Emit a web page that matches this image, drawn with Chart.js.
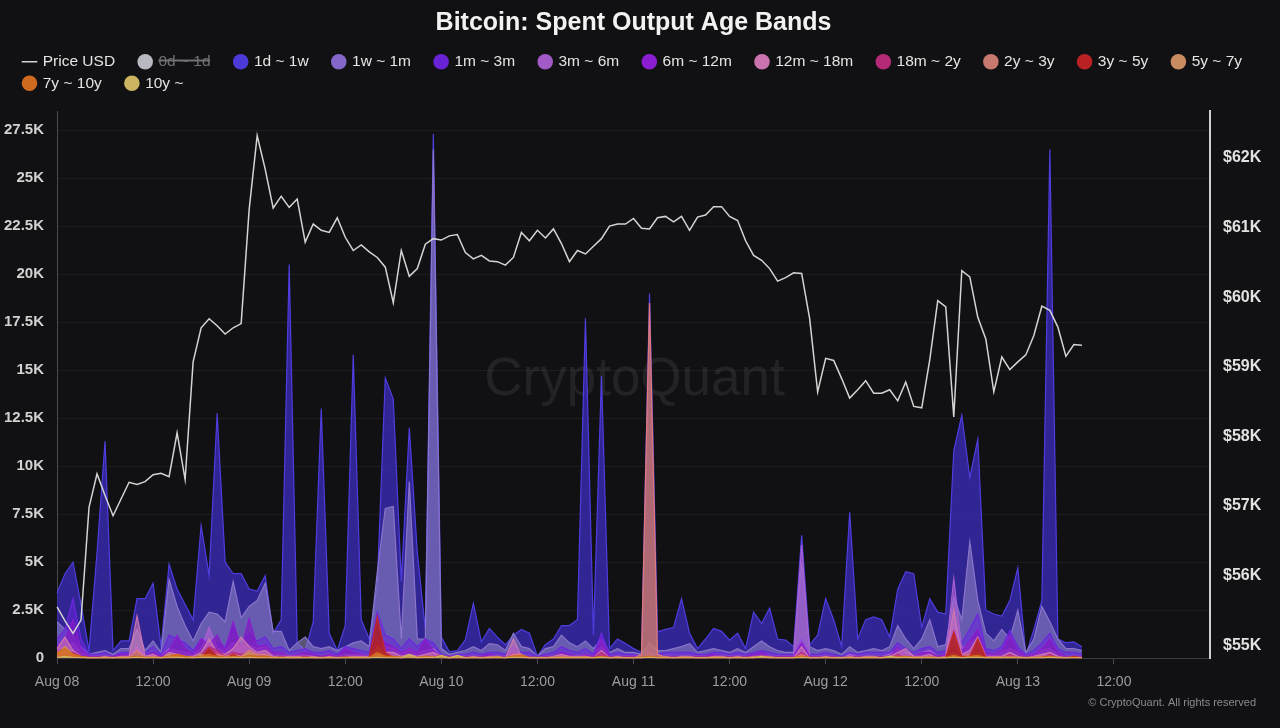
<!DOCTYPE html>
<html>
<head>
<meta charset="utf-8">
<title>Bitcoin: Spent Output Age Bands</title>
<script src="https://cdn.jsdelivr.net/npm/chart.js@4.4.1/dist/chart.umd.min.js"></script>
<style>
    html, body { margin: 0; padding: 0; background: #111113; }
    #wrap { width: 1280px; height: 728px; position: relative; }
</style>
</head>
<body>
<div id="wrap"><canvas id="chart"></canvas></div>
<script>
// hourly points starting Aug 08 00:00, volumes in thousands of BTC, price in thousands of USD
const startDay = 8;
const hoursOnAxis = 144;

const priceUsd = [
    55.55, 55.35, 55.17, 55.36, 56.98, 57.46, 57.15, 56.86, 57.10, 57.34,
    57.31, 57.35, 57.45, 57.47, 57.42, 58.05, 57.38, 59.07, 59.56, 59.69,
    59.59, 59.47, 59.56, 59.62, 61.26, 62.32, 61.84, 61.28, 61.45, 61.29,
    61.41, 60.79, 61.05, 60.96, 60.93, 61.14, 60.86, 60.67, 60.75, 60.65,
    60.57, 60.43, 59.92, 60.67, 60.30, 60.41, 60.76, 60.84, 60.82, 60.88,
    60.90, 60.64, 60.55, 60.60, 60.52, 60.51, 60.46, 60.57, 60.93, 60.81,
    60.96, 60.85, 60.98, 60.77, 60.51, 60.67, 60.62, 60.73, 60.84, 61.02,
    61.05, 61.05, 61.13, 60.99, 60.98, 61.14, 61.16, 61.08, 61.16, 60.96,
    61.15, 61.18, 61.30, 61.30, 61.16, 61.10, 60.81, 60.60, 60.53, 60.41,
    60.23, 60.28, 60.35, 60.34, 59.69, 58.64, 59.12, 59.09, 58.83, 58.55,
    58.67, 58.80, 58.62, 58.62, 58.67, 58.51, 58.78, 58.43, 58.41, 59.10,
    59.95, 59.86, 58.28, 60.38, 60.29, 59.71, 59.40, 58.64, 59.14, 58.96,
    59.07, 59.17, 59.45, 59.87, 59.81, 59.57, 59.15, 59.32, 59.31
];

const band1d1w = [
    3.4, 4.4, 5.0, 2.8, 0.4, 5.5, 11.3, 0.4, 0.9, 0.9,
    3.1, 3.1, 3.9, 0.6, 4.9, 3.6, 2.8, 2.0, 6.9, 4.3,
    12.75, 5.0, 4.4, 4.4, 3.6, 3.5, 4.3, 1.3, 2.0, 20.5,
    0.8, 0.4, 1.9, 13.0, 1.3, 0.4, 1.7, 15.8, 2.0, 1.0,
    3.8, 14.6, 13.5, 4.0, 12.0, 5.5, 1.5, 27.3, 1.1, 0.33,
    0.4, 0.95, 2.85, 0.85, 1.55, 1.1, 0.7, 1.2, 1.5, 1.3,
    0.1, 0.7, 1.0, 1.7, 1.7, 2.0, 17.7, 1.2, 14.7, 0.5,
    1.0, 0.76, 0.5, 0.3, 19.0, 1.37, 1.5, 1.6, 3.1, 1.3,
    0.5, 1.0, 1.55, 1.4, 0.94, 1.3, 0.5, 2.4, 1.8, 2.6,
    1.0, 0.94, 0.6, 6.4, 0.7, 1.2, 3.1, 2.0, 0.6, 7.6,
    1.0, 2.0, 2.15, 2.0, 1.1, 3.6, 4.5, 4.4, 1.6, 3.1,
    2.4, 2.3, 10.8, 12.65, 9.4, 11.4, 2.5, 2.3, 2.2, 3.0,
    4.7, 0.15, 1.5, 3.0, 26.5, 1.0, 0.8, 0.85, 0.6
];

const band1w1m = [
    1.9, 1.5, 1.2, 0.6, 0.2, 0.3, 0.4, 0.2, 0.5, 0.5,
    1.5, 0.4, 0.9, 0.3, 4.1, 2.7, 1.7, 0.9, 1.8, 2.4,
    2.3, 1.9, 4.0, 2.1, 2.7, 3.0, 3.9, 1.4, 1.4, 0.4,
    0.8, 1.1, 0.6, 0.5, 0.6, 0.4, 0.6, 0.8, 0.9, 0.6,
    4.5, 7.8, 7.9, 1.0, 9.2, 1.0, 1.0, 26.5, 0.5, 0.2,
    0.3, 0.4, 0.6, 0.4, 0.76, 0.7, 0.4, 1.3, 0.6, 0.5,
    0.1, 0.5, 0.6, 1.2, 0.8, 0.6, 0.9, 0.5, 1.0, 0.3,
    0.5, 0.3, 0.3, 0.2, 0.8, 0.4, 0.4, 0.5, 0.6, 0.76,
    0.3, 0.4, 0.5, 0.4, 0.3, 0.5, 0.3, 0.6, 0.9, 0.6,
    0.4, 0.3, 0.3, 5.0, 0.6, 0.4, 0.5, 0.4, 0.2, 0.6,
    0.3, 0.4, 0.5, 0.4, 0.6, 1.7, 1.0, 0.5, 1.0, 2.0,
    0.6, 0.7, 3.2, 2.0, 6.06, 3.0, 1.3, 0.9, 1.5, 1.0,
    2.5, 0.3, 1.0, 2.7, 1.9, 1.0, 0.5, 0.5, 0.4
];

const band1m3m = [
    1.0, 1.5, 3.1, 1.0, 0.2, 0.2, 0.3, 0.1, 0.3, 0.3,
    0.5, 0.3, 0.6, 0.2, 1.2, 1.0, 0.8, 0.4, 1.0, 0.9,
    0.8, 0.6, 1.6, 0.7, 1.3, 0.9, 1.1, 0.5, 0.6, 0.3,
    0.4, 0.5, 0.3, 0.3, 0.4, 0.2, 0.6, 0.5, 0.4, 0.3,
    2.4, 1.2, 1.0, 0.5, 1.0, 0.6, 1.0, 0.8, 0.2, 0.1,
    0.2, 0.2, 0.3, 0.2, 0.3, 0.3, 0.2, 0.6, 0.3, 0.3,
    0.1, 0.2, 0.3, 0.6, 0.4, 0.3, 0.5, 0.2, 1.3, 0.2,
    0.3, 0.2, 0.2, 0.1, 0.5, 0.2, 0.3, 0.3, 0.3, 0.3,
    0.2, 0.2, 0.3, 0.3, 0.2, 0.3, 0.2, 0.3, 0.4, 0.3,
    0.2, 0.2, 0.2, 1.0, 0.2, 0.2, 0.3, 0.2, 0.1, 0.3,
    0.2, 0.3, 0.3, 0.3, 0.3, 0.8, 0.5, 0.3, 0.5, 0.6,
    0.3, 0.4, 2.0, 0.8, 1.5, 2.3, 0.5, 0.4, 0.6, 1.45,
    0.6, 0.2, 0.4, 0.8, 1.3, 0.5, 0.3, 0.3, 0.2
];

const band3m6m = [
    0.5, 0.6, 0.8, 0.3, 0.1, 0.1, 0.1, 0.1, 0.1, 0.1,
    0.6, 0.1, 0.2, 0.1, 0.5, 0.4, 0.3, 0.2, 0.5, 1.6,
    0.5, 0.4, 0.8, 0.6, 0.7, 0.5, 0.6, 0.2, 0.3, 0.1,
    0.2, 0.2, 0.1, 0.1, 0.2, 0.1, 0.2, 0.2, 0.2, 0.1,
    1.0, 0.6, 0.5, 0.2, 0.5, 0.3, 0.4, 0.5, 0.1, 0.1,
    0.1, 0.1, 0.1, 0.1, 0.1, 0.1, 0.1, 0.3, 0.1, 0.1,
    0.0, 0.1, 0.1, 0.2, 0.1, 0.1, 0.2, 0.1, 0.6, 0.1,
    0.1, 0.1, 0.1, 0.1, 0.3, 0.1, 0.1, 0.1, 0.1, 0.1,
    0.1, 0.1, 0.1, 0.1, 0.1, 0.1, 0.1, 0.1, 0.2, 0.1,
    0.1, 0.1, 0.1, 5.9, 0.1, 0.1, 0.1, 0.1, 0.0, 0.2,
    0.1, 0.1, 0.1, 0.1, 0.2, 0.5, 0.3, 0.1, 0.3, 0.4,
    0.1, 0.2, 4.15, 0.5, 0.8, 1.1, 0.2, 0.2, 0.3, 0.5,
    0.3, 0.1, 0.2, 0.4, 0.5, 0.2, 0.1, 0.1, 0.1
];

const band6m12m = [
    0.6, 1.0, 2.0, 0.5, 0.1, 0.1, 0.1, 0.1, 0.2, 0.2,
    0.3, 0.1, 0.3, 0.1, 0.4, 1.2, 0.5, 0.2, 1.0, 0.7,
    1.2, 0.4, 1.9, 0.5, 2.07, 0.6, 0.7, 0.3, 0.3, 0.1,
    0.2, 0.3, 0.2, 0.1, 0.2, 0.1, 0.5, 0.3, 0.2, 0.1,
    1.2, 0.8, 0.6, 0.3, 0.5, 0.3, 1.0, 0.4, 0.1, 0.1,
    0.1, 0.1, 0.1, 0.1, 0.2, 0.1, 0.1, 0.3, 0.1, 0.1,
    0.0, 0.1, 0.1, 0.3, 0.2, 0.1, 0.2, 0.1, 1.0, 0.1,
    0.1, 0.1, 0.1, 0.1, 0.2, 0.1, 0.1, 0.1, 0.1, 0.1,
    0.1, 0.1, 0.2, 0.1, 0.1, 0.1, 0.1, 0.2, 0.3, 0.1,
    0.1, 0.1, 0.1, 0.8, 0.1, 0.1, 0.1, 0.1, 0.0, 0.1,
    0.1, 0.1, 0.1, 0.1, 0.1, 0.6, 0.2, 0.1, 0.3, 0.3,
    0.1, 0.2, 1.5, 0.4, 0.9, 1.5, 0.3, 0.2, 0.4, 1.2,
    0.4, 0.1, 0.2, 0.5, 1.0, 0.3, 0.1, 0.1, 0.1
];

const band12m18m = [
    0.5, 1.1, 0.4, 0.1, 0.0, 0.0, 0.1, 0.0, 0.1, 0.1,
    2.2, 0.1, 0.2, 0.0, 0.3, 0.2, 0.1, 0.1, 0.3, 1.0,
    0.3, 0.2, 0.5, 1.1, 0.6, 0.3, 0.4, 0.1, 0.1, 0.1,
    0.1, 0.1, 0.1, 0.0, 0.1, 0.0, 0.1, 0.1, 0.1, 0.1,
    0.6, 0.3, 0.3, 0.1, 0.2, 0.1, 0.2, 0.3, 0.1, 0.0,
    0.1, 0.0, 0.1, 0.0, 0.1, 0.1, 0.0, 1.0, 0.1, 0.0,
    0.0, 0.0, 0.1, 0.2, 0.1, 0.1, 0.1, 0.0, 0.4, 0.0,
    0.1, 0.0, 0.0, 0.0, 0.2, 0.0, 0.1, 0.0, 0.1, 0.1,
    0.0, 0.0, 0.1, 0.1, 0.0, 0.1, 0.0, 0.1, 0.1, 0.1,
    0.0, 0.0, 0.0, 0.6, 0.0, 0.0, 0.1, 0.0, 0.0, 0.1,
    0.0, 0.1, 0.1, 0.0, 0.1, 0.3, 0.5, 0.1, 0.1, 0.2,
    0.0, 0.1, 2.5, 0.2, 0.4, 1.1, 0.1, 0.1, 0.1, 0.3,
    0.1, 0.0, 0.1, 0.2, 0.3, 0.1, 0.0, 0.1, 0.0
];

const band18m2y = [
    0.2, 0.3, 0.3, 0.1, 0, 0, 0, 0, 0, 0,
    0.3, 0, 0.1, 0, 0.1, 0.2, 0.1, 0, 0.2, 0.6,
    0.4, 0.1, 0.3, 0.2, 0.3, 0.1, 0.2, 0, 0.1, 0,
    0, 0.1, 0, 0, 0, 0, 0.1, 0, 0, 0,
    0.8, 0.2, 0.1, 0, 0.1, 0, 0.1, 0.1, 0, 0,
    0, 0, 0, 0, 0, 0, 0, 0.2, 0, 0,
    0, 0, 0, 0, 0, 0, 0, 0, 0.3, 0,
    0, 0, 0, 0, 0.1, 0, 0, 0, 0, 0,
    0, 0, 0, 0, 0, 0, 0, 0, 0, 0,
    0, 0, 0, 0.3, 0, 0, 0, 0, 0, 0,
    0, 0, 0, 0, 0, 0.2, 0, 0, 0, 0.1,
    0, 0, 0.6, 0, 0.2, 0.4, 0, 0, 0, 0.2,
    0, 0, 0, 0, 0.2, 0, 0, 0, 0
];

const band2y3y = [
    0.1, 0.6, 0.2, 0.05, 0, 0, 0, 0, 0.05, 0.05,
    0.4, 0.05, 0.1, 0, 0.1, 0.2, 0.1, 0.05, 0.1, 0.3,
    0.2, 0.1, 0.2, 0.1, 0.4, 0.2, 0.2, 0.05, 0.05, 0,
    0, 0.05, 0, 0, 0.05, 0, 0.05, 0.05, 0.05, 0,
    0.6, 0.2, 0.1, 0.05, 0.1, 0.05, 0.1, 0.1, 0.05, 0,
    0.05, 0, 0.05, 0, 0.05, 0.05, 0, 0.2, 0.2, 0,
    0, 0, 0.05, 0.1, 0.05, 0.05, 0.1, 0, 0.1, 0,
    0.05, 0, 0, 0.2, 18.5, 0.2, 0.05, 0, 0.05, 0.05,
    0, 0, 0.05, 0.05, 0, 0.05, 0, 0.05, 0.1, 0.05,
    0, 0, 0, 0.2, 0, 0, 0.05, 0, 0, 0.05,
    0, 0.05, 0.05, 0, 0.1, 0.1, 0.1, 0.05, 0.05, 0.1,
    0, 0.05, 0.3, 0.1, 0.2, 0.3, 0.05, 0.05, 0.05, 0.1,
    0.05, 0, 0.05, 0.1, 0.1, 0.05, 0, 0.05, 0
];

const band3y5y = [
    0.05, 0.2, 0.1, 0, 0, 0, 0, 0, 0, 0,
    0.05, 0, 0, 0, 0, 0.05, 0, 0, 0.05, 0.5,
    0.1, 0, 0.2, 0, 0.05, 0, 0, 0, 0, 0,
    0, 0, 0, 0, 0, 0, 0, 0, 0, 0.05,
    2.15, 0.3, 0.05, 0, 0.05, 0, 0, 0.05, 0.15, 0,
    0, 0, 0, 0, 0, 0, 0, 0.05, 0.05, 0,
    0, 0, 0, 0, 0, 0, 0, 0, 0.1, 0,
    0, 0, 0, 0, 0.1, 0, 0, 0, 0, 0,
    0, 0, 0, 0, 0, 0, 0, 0, 0.05, 0,
    0, 0, 0, 0.1, 0, 0, 0, 0, 0, 0,
    0, 0, 0, 0, 0.05, 0.05, 0.05, 0, 0, 0.05,
    0, 0.05, 1.37, 0.1, 0.1, 1.0, 0.05, 0, 0, 0.05,
    0, 0, 0, 0.05, 0.1, 0, 0, 0.1, 0
];

const band5y7y = [
    0.2, 0.6, 0.2, 0.05, 0, 0, 0, 0, 0, 0,
    0.1, 0, 0.05, 0, 0.2, 0.1, 0.05, 0, 0.2, 0.1,
    0.05, 0.05, 0.1, 0.05, 0.3, 0.1, 0.05, 0, 0, 0,
    0, 0, 0, 0, 0, 0, 0, 0, 0, 0,
    0.2, 0.1, 0.05, 0, 0.05, 0, 0.05, 0.05, 0, 0,
    0, 0, 0, 0, 0, 0.1, 0, 0.05, 0.05, 0,
    0, 0, 0, 0, 0, 0, 0, 0, 0, 0,
    0, 0, 0, 0, 0.1, 0, 0, 0, 0, 0,
    0, 0, 0, 0, 0, 0, 0, 0, 0.1, 0,
    0, 0, 0, 0, 0, 0, 0, 0, 0, 0,
    0, 0, 0, 0, 0.05, 0, 0.05, 0, 0, 0,
    0, 0, 0.1, 0, 0.05, 0.1, 0, 0, 0, 0,
    0, 0, 0, 0, 0.05, 0, 0, 0, 0
];

const band7y10y = [
    0.3, 0.5, 0.2, 0.1, 0.05, 0.05, 0.05, 0.05, 0.05, 0.05,
    0.1, 0.05, 0.05, 0.05, 0.1, 0.2, 0.1, 0.05, 0.1, 0.2,
    0.1, 0.05, 0.1, 0.05, 0.15, 0.1, 0.1, 0.05, 0.05, 0.05,
    0.05, 0.05, 0.05, 0.05, 0.05, 0.05, 0.05, 0.05, 0.05, 0.05,
    0.3, 0.1, 0.1, 0.05, 0.1, 0.05, 0.1, 0.05, 0.1, 0.05,
    0.1, 0.05, 0.05, 0.05, 0.05, 0.05, 0.05, 0.1, 0.15, 0.05,
    0.05, 0.05, 0.05, 0.05, 0.05, 0.05, 0.05, 0.05, 0.1, 0.05,
    0.05, 0.05, 0.05, 0.05, 0.1, 0.05, 0.05, 0.05, 0.05, 0.05,
    0.05, 0.05, 0.05, 0.05, 0.05, 0.05, 0.05, 0.05, 0.1, 0.05,
    0.05, 0.05, 0.05, 0.1, 0.05, 0.05, 0.05, 0.05, 0.05, 0.05,
    0.05, 0.05, 0.05, 0.05, 0.1, 0.05, 0.1, 0.05, 0.05, 0.05,
    0.05, 0.05, 0.15, 0.05, 0.1, 0.15, 0.05, 0.05, 0.05, 0.05,
    0.05, 0.05, 0.05, 0.05, 0.1, 0.05, 0.05, 0.05, 0.05
];

const band10y = [
    0.05, 0.1, 0.05, 0.02, 0.02, 0.02, 0.02, 0.02, 0.02, 0.02,
    0.05, 0.02, 0.02, 0.02, 0.05, 0.05, 0.02, 0.02, 0.05, 0.05,
    0.02, 0.02, 0.05, 0.02, 0.05, 0.02, 0.02, 0.02, 0.02, 0.02,
    0.02, 0.02, 0.02, 0.02, 0.02, 0.02, 0.02, 0.02, 0.02, 0.02,
    0.05, 0.02, 0.02, 0.02, 0.2, 0.02, 0.05, 0.02, 0.15, 0.02,
    0.15, 0.02, 0.02, 0.02, 0.02, 0.02, 0.02, 0.05, 0.05, 0.02,
    0.02, 0.02, 0.02, 0.02, 0.02, 0.02, 0.02, 0.02, 0.05, 0.02,
    0.02, 0.02, 0.02, 0.02, 0.05, 0.02, 0.02, 0.02, 0.02, 0.02,
    0.02, 0.02, 0.02, 0.02, 0.02, 0.02, 0.02, 0.02, 0.1, 0.02,
    0.02, 0.02, 0.02, 0.05, 0.02, 0.02, 0.02, 0.02, 0.02, 0.02,
    0.02, 0.02, 0.02, 0.02, 0.1, 0.02, 0.05, 0.02, 0.02, 0.02,
    0.02, 0.02, 0.05, 0.02, 0.05, 0.05, 0.02, 0.02, 0.02, 0.02,
    0.02, 0.02, 0.02, 0.02, 0.05, 0.02, 0.02, 0.02, 0.02
];

const leftTickStep = 2.5;
const rightTickStep = 1;

// x labels: one per hour, only the 12h ones are shown
const hourLabels = [];
for (let h = 0; h <= hoursOnAxis; h++) {
    const hh = h % 24;
    const day = startDay + Math.floor(h / 24);
    hourLabels.push(hh === 0 ? "Aug " + String(day).padStart(2, "0") : String(hh).padStart(2, "0") + ":00");
}

function band(label, data, color, fill, order) {
    return {
        label: label,
        data: data,
        borderColor: color,
        backgroundColor: fill,
        borderWidth: 1.2,
        fill: "origin",
        pointRadius: 0,
        pointHoverRadius: 0,
        tension: 0,
        order: order,
        yAxisID: "y"
    };
}

const datasets = [
    {
        label: "Price USD",
        data: priceUsd,
        borderColor: "#d4d4d4",
        backgroundColor: "#d4d4d4",
        borderWidth: 1.5,
        fill: false,
        pointRadius: 0,
        tension: 0,
        order: 0,
        yAxisID: "y2",
        legendStyle: "line"
    },
    Object.assign(band("0d ~ 1d", [], "#b8b8c0", "rgba(184,184,192,0.4)", 13), { hidden: true }),
    band("1d ~ 1w", band1d1w, "#4e3ee0", "rgba(58,42,180,0.8)", 12),
    band("1w ~ 1m", band1w1m, "#8a74cc", "rgba(150,138,200,0.55)", 11),
    band("1m ~ 3m", band1m3m, "#6c26e0", "rgba(104,38,220,0.55)", 10),
    band("3m ~ 6m", band3m6m, "#a95ed2", "rgba(176,96,214,0.6)", 9),
    band("6m ~ 12m", band6m12m, "#8c1cd0", "rgba(130,22,190,0.65)", 8),
    band("12m ~ 18m", band12m18m, "#cc76b0", "rgba(208,122,184,0.6)", 7),
    band("18m ~ 2y", band18m2y, "#b62a78", "rgba(184,42,120,0.65)", 6),
    band("2y ~ 3y", band2y3y, "#e07a7e", "rgba(196,118,112,0.85)", 5),
    band("3y ~ 5y", band3y5y, "#c42626", "rgba(176,30,30,0.85)", 4),
    band("5y ~ 7y", band5y7y, "#ca8c62", "rgba(204,146,102,0.7)", 3),
    band("7y ~ 10y", band7y10y, "#d4681c", "rgba(216,106,26,0.7)", 2),
    band("10y ~", band10y, "#ccb462", "rgba(204,180,98,0.7)", 1)
];

const legendColors = ["#d4d4d4", "#b8b8c0", "#4b3ad8", "#8467c9", "#6a22d6", "#a25ac6", "#8a1ed0",
    "#c974ae", "#b52a76", "#c8796d", "#b82222", "#c88b62", "#d06a1e", "#cdb461"];

const background = {
    id: "background",
    beforeDraw: function (chart) {
        const ctx = chart.ctx;
        ctx.save();
        ctx.fillStyle = "#111113";
        ctx.fillRect(0, 0, chart.width, chart.height);
        ctx.restore();
    }
};

const watermark = {
    id: "watermark",
    beforeDatasetsDraw: function (chart) {
        const ctx = chart.ctx;
        const area = chart.chartArea;
        ctx.save();
        ctx.font = "53px 'Liberation Sans', Arial, sans-serif";
        ctx.fillStyle = "rgba(255,255,255,0.08)";
        ctx.textAlign = "center";
        ctx.textBaseline = "middle";
        ctx.fillText("CryptoQuant", (area.left + area.right) / 2 + 1, (area.top + area.bottom) / 2 - 4);
        ctx.restore();
    },
    afterDraw: function (chart) {
        const ctx = chart.ctx;
        ctx.save();
        ctx.font = "11px 'Liberation Sans', Arial, sans-serif";
        ctx.fillStyle = "#8a8a8e";
        ctx.textAlign = "right";
        ctx.textBaseline = "middle";
        ctx.fillText("\u00a9 CryptoQuant. All rights reserved", 1256, 703);
        ctx.restore();
    }
};

// legend sits a bit lower and further right than chart.js would put it
const legendGap = {
    id: "legendGap",
    beforeInit: function (chart) {
        const fit = chart.legend.fit;
        chart.legend.fit = function () {
            fit.call(this);
            this.height += 10;
        };
    },
    afterLayout: function (chart) {
        chart.legend.left = 18;
        chart.legend.right = chart.width;
    }
};

const ctx = document.getElementById("chart").getContext("2d");
const chart = new Chart(ctx, {
    type: "line",
    data: {
        labels: hourLabels,
        datasets: datasets
    },
    plugins: [background, watermark, legendGap],
    options: {
        responsive: true,
        maintainAspectRatio: false,
        animation: false,
        layout: { padding: { top: 8, left: 4, right: 17, bottom: 27 } },
        interaction: { mode: "index", intersect: false },
        plugins: {
            title: {
                display: true,
                text: "Bitcoin: Spent Output Age Bands",
                color: "#f2f2f2",
                font: { family: "'Liberation Sans', Arial, sans-serif", size: 25, weight: "bold" },
                padding: { top: 0, bottom: 10 }
            },
            legend: {
                position: "top",
                align: "start",
                labels: {
                    usePointStyle: true,
                    boxWidth: 11,
                    boxHeight: 11,
                    padding: 6,
                    color: "#e4e4e4",
                    font: { family: "'Liberation Sans', Arial, sans-serif", size: 15.5 },
                    sort: function (a, b) { return a.datasetIndex - b.datasetIndex; },
                    generateLabels: function (chart) {
                        const items = Chart.defaults.plugins.legend.labels.generateLabels(chart);
                        items.forEach(function (item) {
                            const ds = chart.data.datasets[item.datasetIndex];
                            const isLine = ds.legendStyle === "line";
                            item.pointStyle = isLine ? "line" : "circle";
                            item.fillStyle = legendColors[item.datasetIndex];
                            item.strokeStyle = legendColors[item.datasetIndex];
                            item.lineWidth = isLine ? 1.5 : 0;
                            item.fontColor = item.hidden ? "#707076" : "#e4e4e4";
                            item.text = item.text + "\u2003\u2009";
                        });
                        return items;
                    }
                }
            },
            tooltip: { enabled: false }
        },
        scales: {
            x: {
                type: "category",
                offset: false,
                grid: {
                    display: true,
                    drawOnChartArea: false,
                    drawTicks: true,
                    tickLength: 6,
                    color: "#4a4a50"
                },
                border: { display: true, color: "#3a3a40" },
                ticks: {
                    autoSkip: false,
                    maxRotation: 0,
                    padding: 10,
                    color: "#9c9ca2",
                    font: { family: "'Liberation Sans', Arial, sans-serif", size: 14 },
                    callback: function (value, index) {
                        if (index % 12 === 0 && index < hoursOnAxis) {
                            return this.getLabelForValue(value);
                        }
                        return null;
                    }
                }
            },
            y: {
                position: "left",
                min: 0,
                max: 28.5,
                afterFit: function (scale) { scale.width = 53; },
                grid: { color: "rgba(255,255,255,0.05)", drawTicks: false },
                border: { display: true, color: "#4a4a50" },
                ticks: {
                    stepSize: leftTickStep,
                    includeBounds: false,
                    padding: 13,
                    color: "#d2d2d2",
                    font: { family: "'Liberation Sans', Arial, sans-serif", size: 15, weight: "bold" },
                    callback: function (v) { return v === 0 ? "0" : v + "K"; }
                }
            },
            y2: {
                position: "right",
                min: 54.813,
                max: 62.674,
                afterFit: function (scale) { scale.width = 53; },
                grid: { drawOnChartArea: false, drawTicks: false },
                border: { display: true, color: "#cfcfcf", width: 2 },
                ticks: {
                    stepSize: rightTickStep,
                    includeBounds: false,
                    padding: 13,
                    color: "#e2e2e2",
                    font: { family: "'Liberation Sans', Arial, sans-serif", size: 16, weight: "bold" },
                    callback: function (v) { return "$" + v + "K"; }
                }
            }
        }
    }
});
</script>
</body>
</html>
